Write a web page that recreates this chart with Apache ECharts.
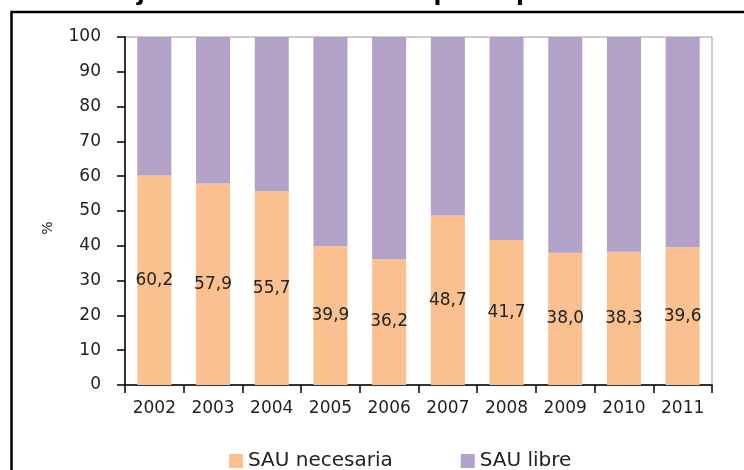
<!DOCTYPE html>
<html>
<head>
<meta charset="utf-8">
<script src="https://cdn.jsdelivr.net/npm/echarts@6/dist/echarts.min.js"></script>
<style>
  html, body { margin: 0; padding: 0; background: #fff; }
  #chart { width: 744px; height: 470px; }
</style>
</head>
<body>
<div id="chart"></div>
<script>
const years = ['2002', '2003', '2004', '2005', '2006', '2007', '2008', '2009', '2010', '2011']
const sauNecesaria = [60.2, 57.9, 55.7, 39.9, 36.2, 48.7, 41.7, 38.0, 38.3, 39.6]
const sauLibre = [39.8, 42.1, 44.3, 60.1, 63.8, 51.3, 58.3, 62.0, 61.7, 60.4]
const yTicks = [0, 10, 20, 30, 40, 50, 60, 70, 80, 90, 100]

const font = 'DejaVu Sans'
const chart = echarts.init(document.getElementById('chart'))

chart.setOption({
  animation: false,
  title: {
    text: 'Porcentaje de la SAU necesaria para aplicar el estiércol',
    left: 16,
    top: -22,
    textStyle: { fontFamily: font, fontSize: 23, fontWeight: 'bold', color: '#000' }
  },
  graphic: [
    {
      type: 'rect',
      shape: { x: 11.5, y: 12, width: 760, height: 480 },
      style: { fill: 'none', stroke: '#000', lineWidth: 2.5 }
    },
    {
      type: 'text',
      x: 48,
      y: 228,
      rotation: Math.PI / 2,
      style: { text: '%', fontFamily: font, fontSize: 14, fill: '#222', align: 'center', verticalAlign: 'middle' }
    }
  ],
  grid: {
    left: 125, right: 32, top: 37, bottom: 85,
    show: true, borderColor: '#999', borderWidth: 1
  },
  legend: {
    bottom: -6,
    left: 224,
    itemGap: 68,
    itemWidth: 14,
    itemHeight: 14,
    icon: 'rect',
    textStyle: { fontFamily: font, fontSize: 20, color: '#222' },
    data: ['SAU necesaria', 'SAU libre']
  },
  xAxis: {
    type: 'category',
    data: years,
    axisLine: { lineStyle: { color: '#000', width: 1.5 } },
    axisTick: { show: true, length: 8, lineStyle: { color: '#000', width: 1.5 } },
    axisLabel: { fontFamily: font, fontSize: 17, color: '#222', margin: 15, interval: 0 }
  },
  yAxis: {
    type: 'value',
    min: yTicks[0],
    max: yTicks[yTicks.length - 1],
    interval: 10,
    splitLine: { show: false },
    axisLine: { show: true, lineStyle: { color: '#000', width: 1.5 } },
    axisTick: { show: true, length: 8, lineStyle: { color: '#000', width: 1.5 } },
    axisLabel: { fontFamily: font, fontSize: 17, color: '#222', margin: 24 }
  },
  series: [
    {
      name: 'SAU necesaria',
      type: 'bar',
      stack: 'total',
      barCategoryGap: '42%',
      data: sauNecesaria,
      itemStyle: { color: '#FAC090' },
      label: {
        show: true,
        position: 'inside',
        fontFamily: font,
        fontSize: 17,
        color: '#222',
        formatter: p => p.value.toFixed(1).replace('.', ',')
      }
    },
    {
      name: 'SAU libre',
      type: 'bar',
      stack: 'total',
      data: sauLibre,
      itemStyle: { color: '#B3A2C7' }
    }
  ]
})
</script>
</body>
</html>
